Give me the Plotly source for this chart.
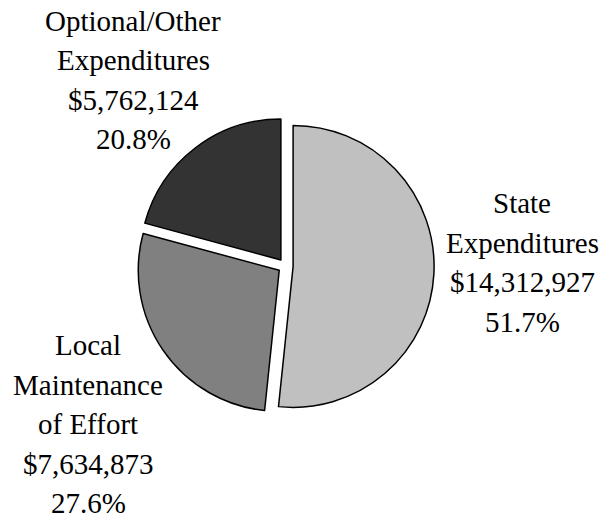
import plotly.graph_objects as go

# Budget breakdown data
categories = ["State Expenditures", "Local Maintenance of Effort", "Optional/Other Expenditures"]
label_lines = [["State", "Expenditures"],
               ["Local", "Maintenance", "of Effort"],
               ["Optional/Other", "Expenditures"]]
amounts = [14312927, 7634873, 5762124]
slice_colors = ["#c0c0c0", "#808080", "#333333"]

W, H = 600, 522
FONT = "Liberation Serif, Times New Roman, serif"
FONT_SIZE = 29
LINE_GAP = 39.5

total = sum(amounts)

fig = go.Figure(go.Pie(
    labels=categories,
    values=amounts,
    sort=False,
    direction="clockwise",
    rotation=0,
    pull=[0.054, 0.054, 0.054],
    marker=dict(colors=slice_colors, line=dict(color="black", width=1.5)),
    textinfo="none",
    hoverinfo="label+value+percent",
    showlegend=False,
    domain=dict(x=[0.2282, 0.7235], y=[0.2057, 0.7751]),
))

# label block anchors: (center x px, first baseline y px)
anchors = [(522, 213), (88, 355), (133, 30.7)]

annotations = []
for lines, amt, (cx, y0) in zip(label_lines, amounts, anchors):
    pct = amt / total * 100
    full = lines + [f"${amt:,}", f"{pct:.1f}%"]
    for i, txt in enumerate(full):
        base = y0 + i * LINE_GAP
        ymid = base - 0.34 * FONT_SIZE
        annotations.append(dict(
            x=cx / W, y=1 - ymid / H, xref="paper", yref="paper",
            text=txt, showarrow=False, xanchor="center", yanchor="middle",
            font=dict(family=FONT, size=FONT_SIZE, color="black"),
        ))

fig.update_layout(
    width=W, height=H,
    margin=dict(l=0, r=0, t=0, b=0),
    paper_bgcolor="white", plot_bgcolor="white",
    annotations=annotations,
)

fig.write_html("out.html")
